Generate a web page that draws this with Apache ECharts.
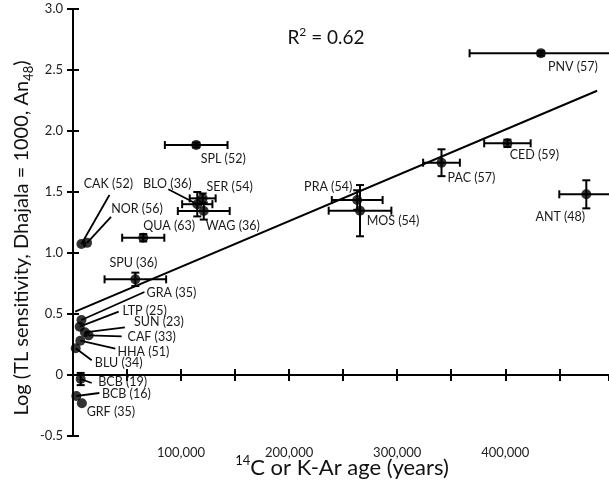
<!DOCTYPE html>
<html>
<head>
<meta charset="utf-8">
<script src="https://cdn.jsdelivr.net/npm/echarts@6/dist/echarts.min.js"></script>
<style>html,body{margin:0;padding:0;background:#fff;}#c{width:609px;height:485px;}</style>
</head>
<body>
<div id="c"></div>
<script>
// ---- data ----
const names = ['PNV (57)','CED (59)','PAC (57)','ANT (48)','PRA (54)','MOS (54)','SPL (52)','SER (54)','BLO (36)','WAG (36)','QUA (63)','SPU (36)','CAK (52)','NOR (56)','GRA (35)','LTP (25)','SUN (23)','CAF (33)','HHA (51)','BLU (34)','BCB (19)','BCB (16)','GRF (35)'];
const ages = [433000,402000,341000,475000,263000,265600,114000,120000,115000,121000,65000,57700,7800,13000,7800,6200,11000,14500,6800,2500,7100,3100,8200];
const sens = [2.637,1.899,1.74,1.481,1.434,1.347,1.885,1.448,1.40,1.344,1.125,0.784,1.074,1.083,0.451,0.396,0.35,0.325,0.281,0.219,-0.033,-0.172,-0.232];
const ageErr = [66000,21500,17000,25000,23500,29000,29000,12000,14000,24000,19500,28500,0,0,0,0,0,0,0,0,0,0,0];
const sensErr = [0.02,0.03,0.11,0.115,0.08,0.21,0.02,0.04,0.1,0.07,0.03,0.055,0,0,0,0,0,0,0,0,0.05,0,0];
const fitX = [2000, 485000];
const fitY = [0.52, 2.33];
const yTicks = ['-0.5','0','0.5','1.0','1.5','2.0','2.5','3.0'];
const xTickLabels = ['100,000','200,000','300,000','400,000'];

// ---- label layout (pixel offsets from point: label centre dx,dy ; leader end lx,ly) ----
const labelLayout = [
  [32,14,null,null],[27,12,null,null],[30,15,null,null],[-26,23,null,null],
  [-29,-13,null,null],[33,10,null,null],[27,14,null,null],[27,-11,null,null],
  [-30,-20,-29,-15],[29,15,null,null],[26,-12,null,null],[-2,-16,null,null],
  [27,-60,28,-49],[50,-34,24,-26],[90,-27,63,-28],[65,-16,39,-15],
  [74,-10,40,-5],[63,2,33,1],[63,11,35,8],[43,15,16,12],
  [42,3,11,4],[50,-2,23,-3],[29,9,null,null]
];

const FONT = 'Lato, "Open Sans", sans-serif';
const pts = ages.map((a,i)=>[a, sens[i], ageErr[i], sensErr[i]]);

const chart = echarts.init(document.getElementById('c'), null, {renderer:'canvas'});
const axisLine = {show:true, lineStyle:{color:'#000', width:2}};
const tick = {show:true, inside:true, length:6, lineStyle:{color:'#000', width:2}};

const option = {
  animation:false,
  backgroundColor:'#fff',
  grid:{left:73, top:9, right:-1, bottom:49, containLabel:false},
  xAxis:[{
    type:'value', min:0, max:496000, interval:50000, position:'bottom',
    axisLine, axisTick:tick, splitLine:{show:false},
    axisLabel:{margin:10, color:'#222', fontFamily:FONT, fontSize:13, showMaxLabel:false,
      formatter:v=>{const k=Math.round(v/100000); return (v%100000===0 && k>=1 && k<=4)?xTickLabels[k-1]:'';}}
  },{
    type:'value', min:0, max:496000, interval:50000, position:'top',
    axisLine, axisTick:tick, axisLabel:{show:false}, splitLine:{show:false}
  }],
  yAxis:[{
    type:'value', min:-0.5, max:3.0, interval:0.5, position:'left',
    axisLine, axisTick:tick, splitLine:{show:false},
    axisLabel:{margin:10, color:'#222', fontFamily:FONT, fontSize:13,
      formatter:v=>yTicks[Math.round((v+0.5)/0.5)]}
  },{
    type:'value', min:-0.5, max:3.0, interval:0.5, position:'right',
    axisLine, axisTick:tick, axisLabel:{show:false}, splitLine:{show:false}
  }],
  graphic:[
    {type:'text', x:22, y:238, rotation:Math.PI/2,
      style:{text:'Log (TL sensitivity, Dhajala = 1000, An{sub|48})', fontFamily:FONT, fontSize:20, fill:'#111',
        align:'center', verticalAlign:'middle', lineHeight:26,
        rich:{sub:{fontSize:13, fontFamily:FONT, fill:'#111', verticalAlign:'bottom', lineHeight:13}}}},
    {type:'text', x:342, y:468,
      style:{text:'{sup|14}C or K-Ar age (years)', fontFamily:FONT, fontSize:22, fill:'#111',
        align:'center', verticalAlign:'middle', lineHeight:28,
        rich:{sup:{fontSize:13, fontFamily:FONT, fill:'#111', verticalAlign:'top', lineHeight:14}}}},
    {type:'text', x:326, y:38,
      style:{text:'R{sup|2} = 0.62', fontFamily:FONT, fontSize:19, fill:'#111', align:'center', verticalAlign:'middle', lineHeight:24,
        rich:{sup:{fontSize:12, fontFamily:FONT, fill:'#111', verticalAlign:'top', lineHeight:12}}}}
  ],
  series:[
    {
      type:'line', data:fitX.map((x,i)=>[x,fitY[i]]), symbol:'none', silent:true,
      lineStyle:{color:'#000', width:2}, z:2
    },
    {
      type:'custom', z:3, silent:true, clip:false,
      data:pts,
      renderItem:(params, api)=>{
        const x=api.value(0), y=api.value(1), ex=api.value(2), ey=api.value(3);
        const ch=[]; const cap=4; const ls={stroke:'#000', lineWidth:2};
        if(ex>0){
          const a=api.coord([x-ex,y]), b=api.coord([x+ex,y]);
          ch.push({type:'line', shape:{x1:a[0],y1:a[1],x2:b[0],y2:b[1]}, style:ls});
          ch.push({type:'line', shape:{x1:a[0],y1:a[1]-cap,x2:a[0],y2:a[1]+cap}, style:ls});
          ch.push({type:'line', shape:{x1:b[0],y1:b[1]-cap,x2:b[0],y2:b[1]+cap}, style:ls});
        }
        if(ey>0){
          const a=api.coord([x,y-ey]), b=api.coord([x,y+ey]);
          ch.push({type:'line', shape:{x1:a[0],y1:a[1],x2:b[0],y2:b[1]}, style:ls});
          ch.push({type:'line', shape:{x1:a[0]-cap,y1:a[1],x2:a[0]+cap,y2:a[1]}, style:ls});
          ch.push({type:'line', shape:{x1:b[0]-cap,y1:b[1],x2:b[0]+cap,y2:b[1]}, style:ls});
        }
        const p=api.coord([x,y]); const L=labelLayout[params.dataIndex];
        if(L[2]!==null){
          ch.push({type:'line', shape:{x1:p[0],y1:p[1],x2:p[0]+L[2],y2:p[1]+L[3]}, style:{stroke:'#000', lineWidth:1.8}});
        }
        ch.push({type:'text', x:p[0]+L[0], y:p[1]+L[1],
          style:{text:names[params.dataIndex], fontFamily:FONT, fontSize:12.5, fill:'#1a1a1a', align:'center', verticalAlign:'middle'}});
        return {type:'group', children:ch};
      }
    },
    {
      type:'scatter', data:pts.map(p=>[p[0],p[1]]), symbol:'circle', symbolSize:10,
      itemStyle:{color:'#000'}, z:4, silent:true
    }
  ]
};
chart.setOption(option);
</script>
</body>
</html>
